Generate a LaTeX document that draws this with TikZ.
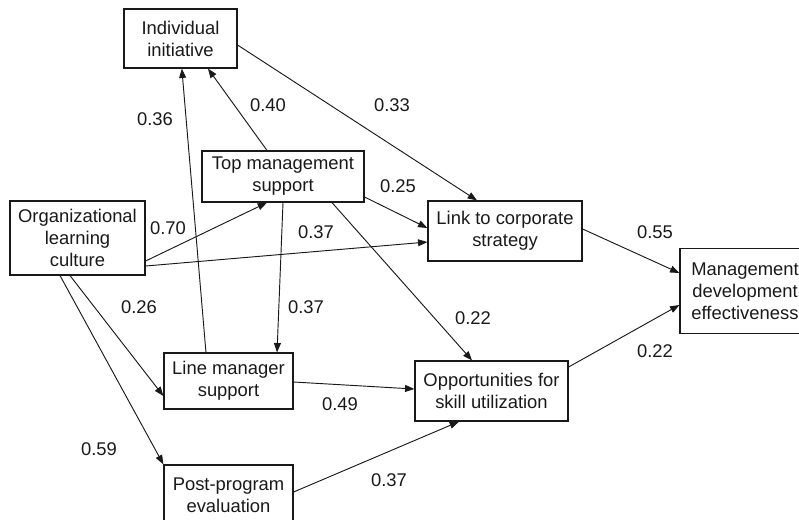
\documentclass[tikz,border=0pt]{standalone}
\usepackage{fontspec}
\setmainfont{Liberation Sans}
\usetikzlibrary{arrows.meta}
\begin{document}
\begin{tikzpicture}[
    x=0.75pt, y=-0.75pt,
    pbox/.style={draw=black!90, line width=0.9pt, inner sep=0pt, align=center,
      font=\fontsize{13.8}{16.5}\selectfont, text=black!90},
    coef/.style={inner sep=0pt, font=\fontsize{13.8}{16.5}\selectfont, text=black!90},
    path/.style={draw=black!90, line width=0.7pt, -{Triangle[length=7pt,width=5.2pt]}}
  ]
    \clip (0,0) rectangle (799,519);
    % cajas del modelo
    \node[pbox, minimum width=84.75pt,  minimum height=44.25pt] (ii)  at (180.5, 38.5) {Individual\\initiative};
    \node[pbox, minimum width=121.5pt,  minimum height=38.25pt] (tms) at (283, 176.5)  {Top management\\support};
    \node[pbox, minimum width=101.25pt, minimum height=55.5pt]  (olc) at (77.5, 238)   {Organizational\\learning\\culture};
    \node[pbox, minimum width=115.5pt,  minimum height=45pt]    (lnk) at (505, 231)    {Link to corporate\\strategy};
    \node[pbox, minimum width=97.5pt,   minimum height=63.75pt] (mde) at (745, 291)    {Management\\development\\effectiveness};
    \node[pbox, minimum width=96.75pt,  minimum height=42pt]    (lms) at (228.5, 381)  {Line manager\\support};
    \node[pbox, minimum width=114.75pt, minimum height=45pt]    (opp) at (491.5, 391)  {Opportunities for\\skill utilization};
    \node[pbox, minimum width=96.75pt,  minimum height=45pt]    (ppe) at (228.5, 495)  {Post-program\\evaluation};
    % flechas
    \draw[path] ([yshift=-17.25pt]olc.east) -- ([xshift=-12pt]tms.south);
    \draw[path] ([yshift=-21pt]olc.east) -- ([yshift=-8.25pt]lnk.west);
    \draw[path] ([xshift=-5.6pt]olc.south) -- ([yshift=-11.25pt]lms.west);
    \draw[path] ([xshift=-13.1pt]olc.south) -- (ppe.north west);
    \draw[path] ([xshift=-16.9pt]lms.north) -- ([xshift=1pt]ii.south);
    \draw[path] ([xshift=-12pt]tms.north) -- ([xshift=20.6pt]ii.south);
    \draw[path] ([yshift=-4.9pt]ii.east) -- ([xshift=-21pt]lnk.north);
    \draw[path] ([yshift=-15.4pt]tms.east) -- ([yshift=2.25pt]lnk.west);
    \draw[path] (tms.south) -- ([xshift=36.4pt]lms.north);
    \draw[path] ([xshift=36.75pt]tms.south) -- ([xshift=-14.6pt]opp.north);
    \draw[path] ([yshift=-0.75pt]lms.east) -- ([yshift=1.5pt]opp.west);
    \draw[path] ([yshift=2.25pt]ppe.east) -- ([xshift=-24.4pt]opp.south);
    \draw[path] ([yshift=1.5pt]lnk.east) -- ([yshift=13.5pt]mde.west);
    \draw[path] ([yshift=18pt]opp.east) -- ([yshift=-10.5pt]mde.west);
    % coeficientes
    \node[coef] (c1)  at (155, 119) {0.36};
    \node[coef] (c2)  at (268, 105) {0.40};
    \node[coef] (c3)  at (392, 105) {0.33};
    \node[coef] (c4)  at (398, 186) {0.25};
    \node[coef] (c5)  at (168, 228) {0.70};
    \node[coef] (c6)  at (316, 232) {0.37};
    \node[coef] (c7)  at (655, 232) {0.55};
    \node[coef] (c8)  at (139, 307) {0.26};
    \node[coef] (c9)  at (306, 307) {0.37};
    \node[coef] (c10) at (473, 318) {0.22};
    \node[coef] (c11) at (655, 351) {0.22};
    \node[coef] (c12) at (340, 404) {0.49};
    \node[coef] (c13) at (99, 449)  {0.59};
    \node[coef] (c14) at (389, 480) {0.37};
\end{tikzpicture}
\end{document}
